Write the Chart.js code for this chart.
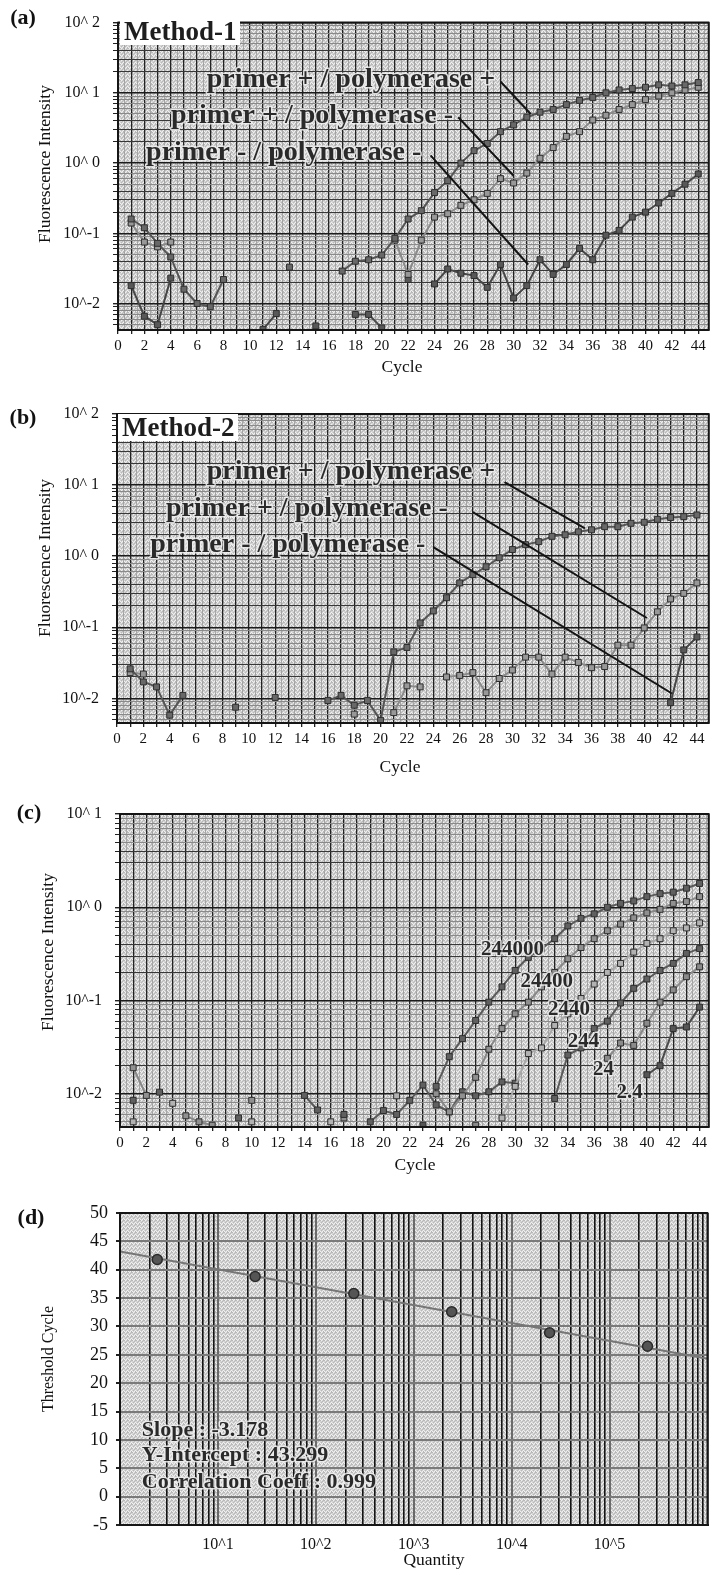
<!DOCTYPE html>
<html>
<head>
<meta charset="utf-8">
<title>Real-time PCR fluorescence curves</title>
<script src="https://cdn.jsdelivr.net/npm/chart.js@4.4.1/dist/chart.umd.min.js"></script>
<style>
  body { margin: 0; background: #fff; }
  #page { position: relative; width: 714px; height: 1571px; overflow: hidden; background: #fff; }
  canvas { position: absolute; left: 0; }
  .t { position: absolute; font-family: 'Liberation Serif', 'Times New Roman', serif; color: #111;
       white-space: nowrap; line-height: 1; transform: translate(-50%, -50%); }
  .panel { font-weight: bold; font-size: 22px; }
  .ytitle { font-size: 17.5px; transform: translate(-50%, -50%) rotate(-90deg); }
  .xtitle { font-size: 17.5px; }
  .method { position: absolute; background: #fff; font-family: 'Liberation Serif', serif; font-weight: bold;
            font-size: 27px; line-height: 27px; padding: 0 4px; color: #1e1e1e; white-space: nowrap; }
</style>
</head>
<body>
<div id="page">
  <canvas id="chartA" width="714" height="380" style="top:0"></canvas>
  <canvas id="chartB" width="714" height="380" style="top:390px"></canvas>
  <canvas id="chartC" width="714" height="380" style="top:780px"></canvas>
  <canvas id="chartD" width="714" height="380" style="top:1180px"></canvas>

  <div class="t panel" style="left:23px;top:17px">(a)</div>
  <div class="t panel" style="left:23px;top:417px">(b)</div>
  <div class="t panel" style="left:29px;top:812px">(c)</div>
  <div class="t panel" style="left:31px;top:1217px">(d)</div>

  <div class="method" style="left:120px;top:18px">Method-1</div>
  <div class="method" style="left:118px;top:414px">Method-2</div>

  <div class="t ytitle" style="left:45px;top:164px">Fluorescence Intensity</div>
  <div class="t ytitle" style="left:45px;top:558px">Fluorescence Intensity</div>
  <div class="t ytitle" style="left:48px;top:952px">Fluorescence Intensity</div>
  <div class="t ytitle" style="left:48px;top:1359px;font-size:16px">Threshold Cycle</div>

  <div class="t xtitle" style="left:402px;top:367px">Cycle</div>
  <div class="t xtitle" style="left:400px;top:767px">Cycle</div>
  <div class="t xtitle" style="left:415px;top:1165px">Cycle</div>
  <div class="t xtitle" style="left:434px;top:1560px">Quantity</div>
</div>

<script>
// ---- data ----
const cycles = [1, 2, 3, 4, 5, 6, 7, 8, 9, 10, 11, 12, 13, 14, 15, 16, 17, 18, 19, 20, 21, 22,
                23, 24, 25, 26, 27, 28, 29, 30, 31, 32, 33, 34, 35, 36, 37, 38, 39, 40, 41, 42, 43, 44];

// (a) Method-1
const m1PrimerPolPlus = [0.16, 0.12, 0.072, 0.046, 0.016, 0.010, 0.009, 0.022, null, null, null, null, 0.033, null,
  null, null, 0.029, 0.040, 0.042, 0.049, 0.085, 0.16, 0.21, 0.38, 0.56, 1.0, 1.5, 1.9, 2.8, 3.5, 4.5, 5.3, 5.8,
  6.8, 7.8, 8.6, 10, 11, 11.5, 12, 13, 12.5, 13, 14];
const m1PrimerPlusPolMinus = [0.14, 0.075, 0.064, 0.075, null, null, null, null, null, null, null, null, null, null,
  null, null, null, null, null, null, 0.08, 0.026, 0.08, 0.17, 0.19, 0.25, 0.30, 0.37, 0.60, 0.52, 0.72, 1.17, 1.66,
  2.4, 2.8, 4.1, 4.8, 5.8, 6.8, 8.0, 9.0, 10, 11, 12];
const m1PrimerPolMinus = [0.018, 0.0066, 0.005, 0.023, null, null, null, null, null, null, 0.0043, 0.0072, null, null,
  0.0048, null, null, 0.007, 0.007, 0.0045, null, 0.022, null, 0.019, 0.031, 0.027, 0.025, 0.017, 0.036, 0.012, 0.018,
  0.042, 0.026, 0.036, 0.061, 0.042, 0.094, 0.11, 0.17, 0.20, 0.27, 0.37, 0.50, 0.70];

// (b) Method-2
const m2PrimerPolPlus = [0.026, 0.017, 0.0145, 0.0058, 0.011, null, null, null, 0.0075, null, null, 0.0103, null, null,
  null, 0.0093, 0.011, 0.008, 0.0093, 0.0049, 0.045, 0.052, 0.115, 0.17, 0.26, 0.42, 0.55, 0.71, 0.95, 1.24, 1.45,
  1.6, 1.9, 2.0, 2.2, 2.35, 2.6, 2.6, 2.9, 3.0, 3.3, 3.5, 3.6, 3.8];
const m2PrimerPlusPolMinus = [0.023, 0.022, null, null, null, null, null, null, null, null, null, null, null, null,
  null, null, null, 0.006, null, null, 0.0063, 0.015, 0.0145, null, 0.020, 0.021, 0.023, 0.012, 0.019, 0.025, 0.038,
  0.038, 0.022, 0.038, 0.032, 0.027, 0.028, 0.056, 0.056, 0.098, 0.165, 0.25, 0.30, 0.42];
const m2PrimerPolMinus = [null, null, null, null, null, null, null, null, null, null, null, null, null, null,
  null, null, null, null, null, null, null, null, null, null, null, null, null, null, null, null, null,
  null, null, null, null, null, null, null, null, null, null, 0.0087, 0.048, 0.073];

// (c) dilution series
const dilutionNames = ['244000', '24400', '2440', '244', '24', '2.4'];
const c244000 = [0.0085, null, 0.0104, null, null, null, null, null, 0.0055, null, null, null, null, 0.0096,
  0.0067, null, 0.006, null, null, null, null, null, null, 0.012, 0.025, 0.039, 0.061, 0.096, 0.14, 0.21, 0.29,
  0.36, 0.46, 0.63, 0.76, 0.85, 1.0, 1.1, 1.17, 1.3, 1.4, 1.45, 1.6, 1.8];
const c24400 = [0.019, 0.0096, null, null, 0.0058, 0.005, 0.0046, null, null, 0.0085, null, null, null, null,
  null, null, 0.0055, null, null, null, null, null, null, 0.010, 0.0064, 0.0095, 0.015, 0.030, 0.050, 0.072, 0.096,
  0.14, 0.20, 0.28, 0.37, 0.46, 0.56, 0.66, 0.77, 0.87, 0.95, 1.1, 1.15, 1.3];
const c2440 = [0.005, null, null, 0.0079, null, null, null, null, null, 0.005, null, null, null, null,
  null, 0.005, null, null, null, null, 0.0095, null, null, null, null, null, null, null, 0.0055, 0.012, 0.027,
  0.031, 0.054, 0.072, 0.105, 0.15, 0.20, 0.25, 0.33, 0.41, 0.46, 0.56, 0.60, 0.68];
const c244 = [null, null, null, null, null, null, null, null, null, null, null, null, null, null,
  null, null, null, null, 0.005, 0.0066, 0.006, 0.0085, 0.0124, 0.0076, 0.0064, 0.0105, 0.0095, 0.0105, 0.0134,
  0.013, null, null, 0.0089, 0.026, 0.031, 0.050, 0.060, 0.094, 0.135, 0.17, 0.21, 0.25, 0.32, 0.36];
const c24 = [null, null, null, null, null, null, null, null, null, null, null, null, null, null,
  null, null, null, null, null, null, null, null, null, null, null, null, 0.0046, null, null, null, null,
  null, null, null, null, null, 0.024, 0.035, 0.033, 0.057, 0.096, 0.13, 0.18, 0.23];
const c2p4 = [null, null, null, null, null, null, null, null, null, null, null, null, null, null,
  null, null, null, null, null, null, null, null, 0.0046, null, null, null, null, null, null, null, null,
  null, null, null, null, null, null, null, null, 0.016, 0.020, 0.050, 0.052, 0.085];

// (d) standard curve
const quantity = [2.4, 24, 244, 2440, 24400, 244000];
const thresholdCycle = [41.8, 38.8, 35.8, 32.6, 28.9, 26.5];
const fitQuantity = [1, 1000000];
const fitCycle = [43.2, 24.3];
const fitText = ['Slope : -3.178', 'Y-Intercept : 43.299', 'Correlation Coeff : 0.999'];

// ---- annotation anchors (data coordinates) ----
const seriesNames = ['primer + / polymerase +', 'primer + / polymerase -', 'primer - / polymerase -'];
const aLabelAt = [[28.6, 15.5], [25.4, 4.7], [23.0, 1.38]];
const aPointers = [[29.0, 14.5, 31.3, 5.0], [25.8, 4.5, 30.0, 0.66], [23.7, 1.29, 31.1, 0.036]];
const bLabelAt = [[28.7, 15.2], [25.1, 4.7], [23.4, 1.43]];
const bPointers = [[29.4, 11, 35.5, 2.47], [27.0, 4.17, 40.2, 0.135], [24.0, 1.34, 42.1, 0.0117]];
const cLabelAt = [[27.4, 0.35], [30.4, 0.158], [32.5, 0.079], [34.0, 0.036], [35.9, 0.018], [37.7, 0.0102]];
const dLabelAt = [[1.67, 11.75], [1.67, 7.3], [1.67, 2.6]];

// ---- helpers ----
const SERIF = "'Liberation Serif', 'Times New Roman', serif";

// light stippled plot background
const stipple = document.createElement('canvas');
stipple.width = stipple.height = 4;
(function () {
  const p = stipple.getContext('2d');
  p.fillStyle = '#d4d4d4'; p.fillRect(0, 0, 4, 4);
  p.fillStyle = '#b8b8b8';
  [[0, 0], [2, 1], [1, 2], [3, 3], [3, 0]].forEach(([a, b]) => p.fillRect(a, b, 1, 1));
  p.fillStyle = '#f0f0f0';
  [[1, 0], [3, 2], [0, 3], [2, 3]].forEach(([a, b]) => p.fillRect(a, b, 1, 1));
})();

function makeDecor(cfg) {
  return {
    id: 'decor',
    beforeDraw(chart) {
      const { ctx, chartArea: a } = chart;
      ctx.save();
      ctx.fillStyle = ctx.createPattern(stipple, 'repeat');
      ctx.fillRect(a.left, a.top, a.width, a.height);
      ctx.restore();
    },
    afterDatasetsDraw(chart) {
      const { ctx, chartArea: a, scales: { x, y } } = chart;
      ctx.save();
      (cfg.pointers || []).forEach(l => {
        ctx.strokeStyle = '#141414';
        ctx.lineWidth = 2;
        ctx.beginPath();
        ctx.moveTo(x.getPixelForValue(l[0]), y.getPixelForValue(l[1]));
        ctx.lineTo(x.getPixelForValue(l[2]), y.getPixelForValue(l[3]));
        ctx.stroke();
      });
      ctx.font = cfg.font;
      ctx.textAlign = cfg.align;
      ctx.textBaseline = 'middle';
      ctx.lineJoin = 'round';
      (cfg.texts || []).forEach((txt, i) => {
        const px = x.getPixelForValue(cfg.at[i][0]);
        const py = y.getPixelForValue(cfg.at[i][1]);
        ctx.strokeStyle = 'rgba(238,238,238,0.85)';
        ctx.lineWidth = 3;
        ctx.strokeText(txt, px, py);
        ctx.fillStyle = '#2a2a2a';
        ctx.fillText(txt, px, py);
      });
      ctx.strokeStyle = '#151515';
      ctx.lineWidth = 2;
      ctx.strokeRect(a.left, a.top, a.width, a.height);
      ctx.restore();
    }
  };
}

function mantissa(v) {
  return Math.round(v / Math.pow(10, Math.floor(Math.log10(v) + 1e-9)));
}

function logTickValues(lo, hi) {
  const out = [];
  for (let e = Math.floor(Math.log10(lo)); e <= Math.ceil(Math.log10(hi)); e++) {
    for (let k = 1; k < 10; k++) {
      const v = k * Math.pow(10, e);
      if (v >= lo * 0.9999 && v <= hi * 1.0001) out.push(v);
    }
  }
  return out;
}

function decadeExp(v) {
  const e = Math.log10(v);
  const r = Math.round(e);
  return Math.abs(e - r) < 1e-6 ? r : null;
}

function ds(label, vals, fill, line) {
  return {
    label,
    data: cycles.map((c, i) => ({ x: c, y: vals[i] })),
    borderColor: line,
    borderWidth: 2,
    pointStyle: 'rect',
    pointRadius: 4.2,
    pointBackgroundColor: fill,
    pointBorderColor: '#2e2e2e',
    pointBorderWidth: 1,
    tension: 0,
    spanGaps: false
  };
}

function qpcrChart(id, datasets, yMin, yMax, xMax, box, decorCfg) {
  const halfSteps = [];
  for (let v = 0; v <= xMax; v += 0.5) halfSteps.push(v);
  return new Chart(document.getElementById(id), {
    type: 'line',
    data: { datasets },
    options: {
      responsive: false,
      animation: false,
      layout: { padding: { top: box.top, right: box.right, left: 0, bottom: 0 } },
      plugins: { legend: { display: false }, tooltip: { enabled: false } },
      scales: {
        x: {
          type: 'linear',
          min: 0,
          max: xMax,
          afterBuildTicks: s => { s.ticks = halfSteps.map(v => ({ value: v })); },
          afterFit: s => { s.height = box.xh; },
          border: { color: '#151515', width: 2 },
          grid: {
            color: c => Number.isInteger(c.tick.value) ? '#222' : '#999',
            lineWidth: c => Number.isInteger(c.tick.value) ? 1.3 : 0.8,
            tickLength: 4,
            tickColor: c => Number.isInteger(c.tick.value) ? '#202020' : 'rgba(0,0,0,0)'
          },
          ticks: {
            autoSkip: false,
            maxRotation: 0,
            padding: 3,
            color: '#111',
            font: { family: SERIF, size: 15 },
            callback: v => (Number.isInteger(v) && v % 2 === 0) ? String(v) : ''
          }
        },
        y: {
          type: 'logarithmic',
          min: yMin,
          max: yMax,
          afterBuildTicks: s => { s.ticks = logTickValues(yMin, yMax).map(v => ({ value: v })); },
          afterFit: s => { s.width = box.yw; },
          border: { color: '#151515', width: 2 },
          grid: {
            color: c => { const m = mantissa(c.tick.value); return m === 1 ? '#1c1c1c' : m <= 4 ? '#383838' : '#8a8a8a'; },
            lineWidth: c => mantissa(c.tick.value) === 1 ? 1.4 : 1,
            tickLength: 5,
            tickColor: '#222'
          },
          ticks: {
            autoSkip: false,
            padding: 13,
            color: '#111',
            font: { family: SERIF, size: 16 },
            callback: v => { const e = decadeExp(v); return e === null ? '' : (e >= 0 ? '10^ ' + e : '10^' + e); }
          }
        }
      }
    },
    plugins: [makeDecor(decorCfg)]
  });
}

const DARK = '#5a5a5a', MID = '#888', LIGHT = '#a8a8a8';

// (a)
qpcrChart('chartA', [
  ds(seriesNames[0], m1PrimerPolPlus, '#686868', '#555'),
  ds(seriesNames[1], m1PrimerPlusPolMinus, '#989898', '#8a8a8a'),
  ds(seriesNames[2], m1PrimerPolMinus, '#585858', '#474747')
], 0.0042, 100, 44.8, { top: 17, right: 2, xh: 50, yw: 118 },
  { texts: seriesNames, at: aLabelAt, pointers: aPointers, font: 'bold 28px ' + SERIF, align: 'right' });

// (b)
qpcrChart('chartB', [
  ds(seriesNames[0], m2PrimerPolPlus, '#686868', '#555'),
  ds(seriesNames[1], m2PrimerPlusPolMinus, '#989898', '#8a8a8a'),
  ds(seriesNames[2], m2PrimerPolMinus, '#585858', '#474747')
], 0.0045, 100, 44.9, { top: 24, right: 2, xh: 47, yw: 117 },
  { texts: seriesNames, at: bLabelAt, pointers: bPointers, font: 'bold 28px ' + SERIF, align: 'right' });

// (c)
qpcrChart('chartC', [
  ds(dilutionNames[0], c244000, '#606060', DARK),
  ds(dilutionNames[1], c24400, '#909090', MID),
  ds(dilutionNames[2], c2440, '#b2b2b2', LIGHT),
  ds(dilutionNames[3], c244, '#606060', DARK),
  ds(dilutionNames[4], c24, '#8a8a8a', MID),
  ds(dilutionNames[5], c2p4, '#565656', '#4a4a4a')
], 0.0044, 10, 44.7, { top: 34, right: 2, xh: 33, yw: 120 },
  { texts: dilutionNames, at: cLabelAt, pointers: [], font: 'bold 21px ' + SERIF, align: 'left' });

// (d)
const dTicks = logTickValues(1, 1000000);
new Chart(document.getElementById('chartD'), {
  type: 'scatter',
  data: {
    datasets: [
      {
        label: 'Standards',
        data: quantity.map((q, i) => ({ x: q, y: thresholdCycle[i] })),
        pointRadius: 5,
        pointBackgroundColor: '#555',
        pointBorderColor: '#2a2a2a',
        pointBorderWidth: 1.5
      },
      {
        type: 'line',
        label: 'Fit',
        data: fitQuantity.map((q, i) => ({ x: q, y: fitCycle[i] })),
        borderColor: '#767676',
        borderWidth: 2,
        pointRadius: 0
      }
    ]
  },
  options: {
    responsive: false,
    animation: false,
    layout: { padding: { top: 33, right: 0, left: 0, bottom: 0 } },
    plugins: { legend: { display: false }, tooltip: { enabled: false } },
    scales: {
      x: {
        type: 'logarithmic',
        min: 1,
        max: 1000000,
        afterBuildTicks: s => { s.ticks = dTicks.map(v => ({ value: v })); },
        afterFit: s => { s.height = 35; },
        border: { color: '#151515', width: 2 },
        grid: {
          color: c => mantissa(c.tick.value) === 1 ? '#6a6a6a' : '#141414',
          lineWidth: c => mantissa(c.tick.value) === 1 ? 2 : 1.6,
          tickLength: 4,
          tickColor: 'rgba(0,0,0,0)'
        },
        ticks: {
          autoSkip: false,
          maxRotation: 0,
          padding: 6,
          color: '#111',
          font: { family: SERIF, size: 16 },
          callback: v => { const e = decadeExp(v); return (e !== null && e >= 1 && e <= 5) ? '10^' + e : ''; }
        }
      },
      y: {
        min: -5,
        max: 50,
        afterFit: s => { s.width = 120; },
        border: { color: '#151515', width: 2 },
        grid: { color: '#7a7a7a', lineWidth: 2, tickLength: 4, tickColor: '#222' },
        ticks: {
          stepSize: 5,
          padding: 8,
          color: '#111',
          font: { family: SERIF, size: 18 }
        }
      }
    }
  },
  plugins: [makeDecor({ texts: fitText, at: dLabelAt, pointers: [], font: 'bold 22px ' + SERIF, align: 'left' })]
});
</script>
</body>
</html>
